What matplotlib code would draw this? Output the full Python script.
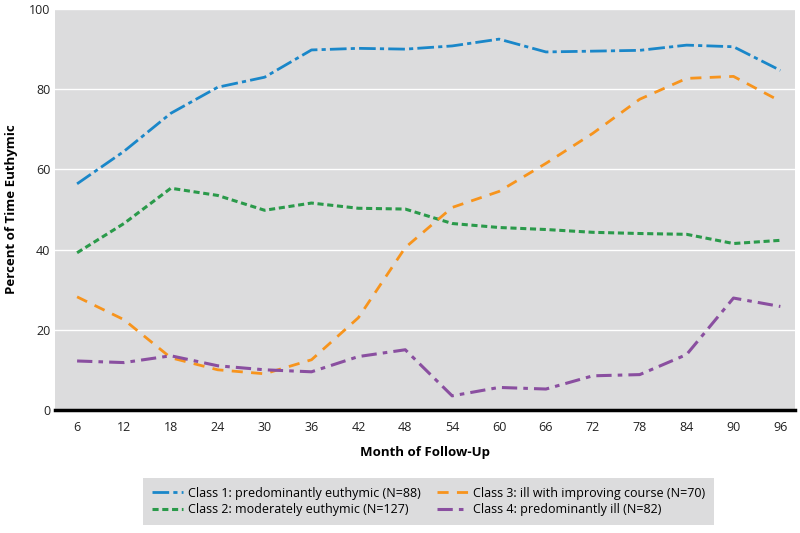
import numpy as np
import matplotlib.pyplot as plt

plt.rcParams['font.family'] = ['Open Sans', 'DejaVu Sans']

months = [6, 12, 18, 24, 30, 36, 42, 48, 54, 60, 66, 72, 78, 84, 90, 96]
class1 = [56.4, 64.5, 74.0, 80.5, 83.0, 89.8, 90.2, 90.0, 90.8, 92.5, 89.3, 89.5, 89.7, 91.0, 90.6, 84.7]
class2 = [39.2, 46.5, 55.3, 53.5, 49.8, 51.6, 50.3, 50.1, 46.5, 45.5, 45.0, 44.3, 44.0, 43.8, 41.5, 42.3]
class3 = [28.2, 22.5, 13.0, 10.0, 9.0, 12.5, 23.0, 40.5, 50.5, 54.5, 61.5, 69.0, 77.5, 82.7, 83.2, 77.0]
class4 = [12.2, 11.8, 13.5, 11.0, 10.0, 9.5, 13.3, 15.0, 3.5, 5.6, 5.2, 8.5, 8.8, 13.8, 27.9, 25.8]

labels = ["Class 1: predominantly euthymic (N=88)",
          "Class 2: moderately euthymic (N=127)",
          "Class 3: ill with improving course (N=70)",
          "Class 4: predominantly ill (N=82)"]

fig = plt.figure(figsize=(8, 5.33), dpi=100)
ax = fig.add_axes([0.069, 0.231, 0.925, 0.752])
ax.set_facecolor('#dcdcdd')

l1, = ax.plot(months, class1, color='#1a87c9', lw=2, dashes=(6, 1.5, 1.5, 1.5), label=labels[0])
l2, = ax.plot(months, class2, color='#2a9a4a', lw=2.2, dashes=(2, 1.2), label=labels[1])
l3, = ax.plot(months, class3, color='#f7941d', lw=2, dashes=(4, 3), label=labels[2])
l4, = ax.plot(months, class4, color='#8a4fa0', lw=2.2, dashes=(5, 2, 1.5, 2), label=labels[3])

ax.set_xlim(3.2, 97.9)
ax.set_ylim(0, 100)
ax.set_xticks(months)
ax.set_yticks([0, 20, 40, 60, 80, 100])
ax.yaxis.grid(True, color='white', lw=1)
ax.set_axisbelow(True)
for s in ['top', 'right', 'left']:
    ax.spines[s].set_visible(False)
ax.spines['bottom'].set_linewidth(2.5)
ax.spines['bottom'].set_color('black')
ax.tick_params(length=0, labelsize=9, colors='#222222')
ax.tick_params(axis='x', pad=8)
ax.set_xlabel("Month of Follow-Up", fontsize=9.5, fontweight='bold', labelpad=9)
ax.set_ylabel("Percent of Time Euthymic", fontsize=9.5, fontweight='bold', labelpad=8)

leg = fig.legend(handles=[l1, l2, l3, l4], ncol=2, loc='center',
                 bbox_to_anchor=(0.536, 0.059),
                 fontsize=9, frameon=True, fancybox=False, handlelength=2.5,
                 columnspacing=1.3, handletextpad=0.4, borderpad=0.7, labelspacing=0.3,
                 borderaxespad=0)
leg.get_frame().set_facecolor('#dcdcdd')
leg.get_frame().set_edgecolor('none')
leg.get_frame().set_alpha(1)

fig.savefig("out.png", dpi=100)
